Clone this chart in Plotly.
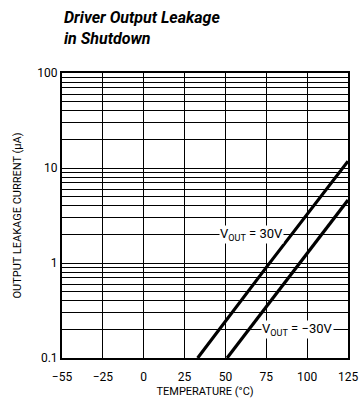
import numpy as np
import plotly.graph_objects as go

# axis ticks (temperature axis is drawn with equally spaced ticks)
temp_ticks = [-55, -25, 0, 25, 50, 75, 100, 125]
temp_labels = ["\u221255", "\u221225", "0", "25", "50", "75", "100", "125"]
current_ticks = [0.1, 1, 10, 100]
current_labels = ["0.1", "1", "10", "100"]

# leakage current (uA) vs temperature (C)
temp_pos30 = [33, 75, 125]
leak_pos30 = [0.1, 0.9, 11.8]
temp_neg30 = [51, 95, 125]
leak_neg30 = [0.1, 0.97, 4.6]


def tpos(t):
    return np.interp(t, temp_ticks, range(len(temp_ticks)))


minor_vals = [m * 10.0 ** e for e in (-1, 0, 1) for m in range(2, 10)]

font = "Roboto, Liberation Sans, Arial"
W, H = 360, 402
L, R, T, B = 62, 12, 73, 44
ph = H - T - B

fig = go.Figure()
for t, v in [(temp_pos30, leak_pos30), (temp_neg30, leak_neg30)]:
    fig.add_trace(go.Scatter(x=tpos(t), y=v, mode="lines",
                             line=dict(color="black", width=3.2),
                             showlegend=False, hoverinfo="skip"))

fig.add_annotation(x=tpos(66), y=np.log10(2), text="V<sub>OUT</sub> = 30V",
                   showarrow=False, bgcolor="white", borderpad=0,
                   font=dict(family=font, size=13, color="black"))
fig.add_annotation(x=tpos(94), y=np.log10(0.2), text="V<sub>OUT</sub> = \u221230V",
                   showarrow=False, bgcolor="white", borderpad=0,
                   font=dict(family=font, size=13, color="black"))
fig.add_annotation(xref="paper", yref="paper", x=0, y=1 + (T - 6) / ph,
                   xanchor="left", yanchor="top", align="left", showarrow=False,
                   text="<b><i>Driver Output Leakage<br>in Shutdown</i></b>",
                   font=dict(family=font, size=16, color="black"))

fig.update_layout(
    width=W, height=H,
    margin=dict(l=L, r=R, t=T, b=B),
    paper_bgcolor="white", plot_bgcolor="white",
    font=dict(family=font, size=12, color="black"),
)
fig.update_xaxes(range=[0, len(temp_ticks) - 1], tickvals=list(range(len(temp_ticks))),
                 ticktext=temp_labels, showgrid=True, gridcolor="black", gridwidth=1,
                 showline=True, linecolor="black", linewidth=2, mirror=True,
                 zeroline=False, ticks="", ticklabelstandoff=7, automargin=False,
                 title=dict(text="TEMPERATURE (\u00b0C)", standoff=4,
                            font=dict(family=font, size=11)))
fig.update_yaxes(type="log", range=[-1, 2], tickvals=current_ticks,
                 ticktext=current_labels, showgrid=True, gridcolor="black", gridwidth=1,
                 minor=dict(tickvals=minor_vals, showgrid=True, gridcolor="black",
                            gridwidth=1, ticks=""),
                 showline=True, linecolor="black", linewidth=2, mirror=True,
                 ticks="", automargin=False,
                 title=dict(text="OUTPUT LEAKAGE CURRENT (\u03bcA)", standoff=14,
                            font=dict(family=font, size=11)))

fig.write_html("out.html", config={"displayModeBar": False},
               post_script="document.body.style.margin='0';")
